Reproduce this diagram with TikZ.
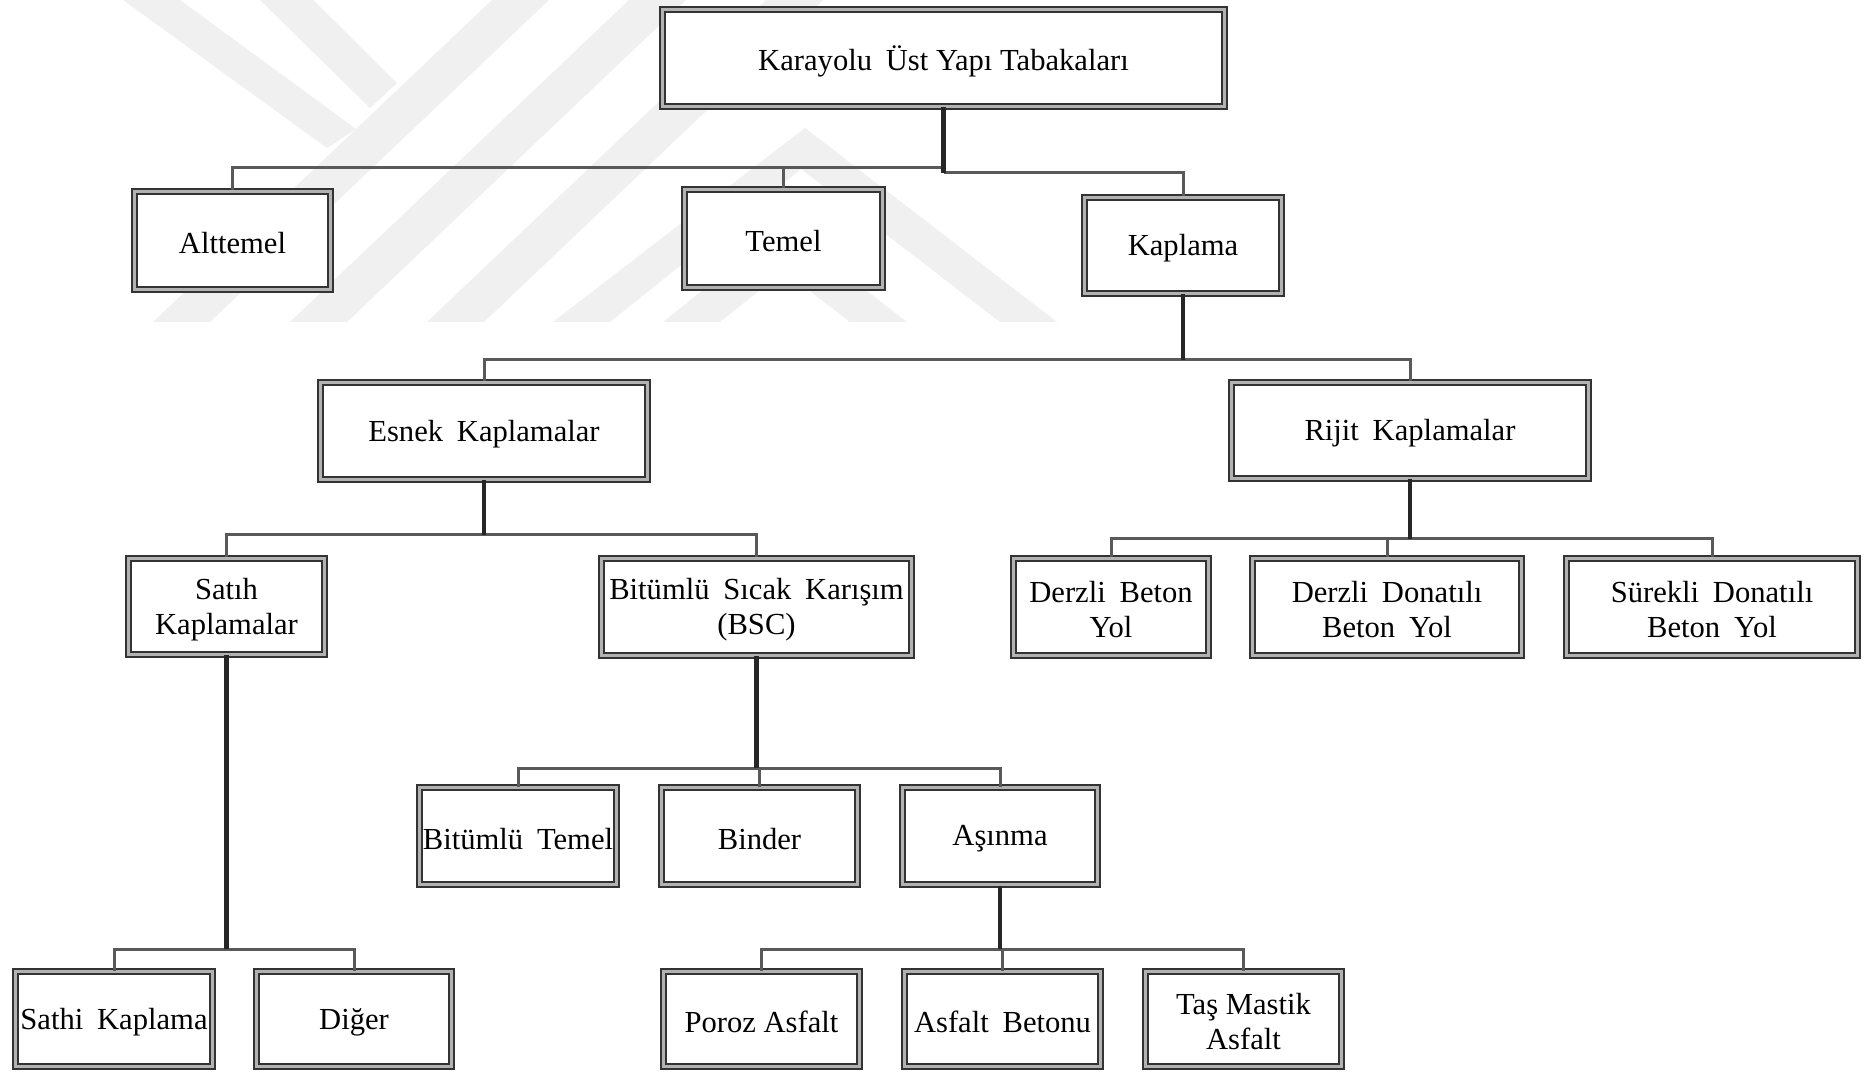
\documentclass[tikz,border=0pt]{standalone}
\usepackage{fontspec}
\setmainfont{Liberation Serif}
\begin{document}
\begin{tikzpicture}[x=0.5pt,y=-0.5pt,
  box/.style={draw=black!80, line width=1pt, double=gray!60, double distance=1.5pt,
    fill=white, inner sep=0pt},
  txt/.style={align=center, inner sep=0pt, font=\fontsize{15.3}{17.5}\selectfont},
  stem/.style={draw=black!85, line width=2.3pt},
  bus/.style={draw=black!65, line width=1.5pt},
  wm/.style={fill=black!6, draw=none}]
\useasboundingbox[fill=white] (0,0) rectangle (1869,1074);
% faint watermark
\begin{scope}
\clip (0,0) rectangle (1869,322);
\fill[wm] (153,322) -- (210,322) -- (549,0) -- (492,0) -- cycle;
\fill[wm] (290,322) -- (347,322) -- (686,0) -- (629,0) -- cycle;
\fill[wm] (427,322) -- (484,322) -- (823,0) -- (766,0) -- cycle;
\fill[wm] (123,0) -- (180,0) -- (356,129) -- (327,148) -- cycle;
\fill[wm] (260,0) -- (313,0) -- (397,83) -- (370,108) -- cycle;
\fill[wm] (553,322) -- (805,128) -- (1057,322) -- (1000,322) -- (801,169) -- (610,322) -- cycle;
\fill[wm] (663,322) -- (783,226) -- (907,322) -- (850,322) -- (784,271) -- (720,322) -- cycle;
\end{scope}
\newcommand\bx[6]{\node[box, minimum width={(#4-#2)*0.5pt-3.5pt}, minimum height={(#5-#3)*0.5pt-3.5pt}] (#1) at ({(#2+#4)/2},{(#3+#5)/2}) {};
  \node[txt] (#1t) at ([yshift=-1.5pt]#1.center) {#6};}
\newcommand\gapsp{\hspace{0.2em}}
\coordinate (j0a) at (943.5,168);
\coordinate (j0b) at (943.5,173);
\coordinate (j1) at (1183,360);
\coordinate (j2) at (484,535);
\coordinate (j3) at (1410,539);
\coordinate (j4) at (226.5,949);
\coordinate (j5) at (756.5,768);
\coordinate (j6) at (1000,949);
% boxes
\bx{top}{659}{6}{1228}{110}{Karayolu\gapsp{} Üst Yapı Tabakaları}
\bx{alt}{131}{188}{334}{293}{Alttemel}
\bx{temel}{681}{186}{886}{291}{Temel}
\bx{kaplama}{1081}{194}{1285}{297}{Kaplama}
\bx{esnek}{317}{379}{651}{483}{Esnek\gapsp{} Kaplamalar}
\bx{rijit}{1228}{379}{1592}{482}{Rijit\gapsp{} Kaplamalar}
\bx{satih}{125}{555}{328}{658}{Satıh\\Kaplamalar}
\bx{bsc}{598}{555}{915}{659}{Bitümlü\gapsp{} Sıcak\gapsp{} Karışım\\(BSC)}
\bx{db}{1010}{555}{1212}{659}{Derzli\gapsp{} Beton\\Yol}
\bx{ddb}{1249}{555}{1525}{659}{Derzli\gapsp{} Donatılı\\Beton\gapsp{} Yol}
\bx{sdb}{1563}{555}{1861}{659}{Sürekli\gapsp{} Donatılı\\Beton\gapsp{} Yol}
\bx{bt}{416}{784}{620}{888}{Bitümlü\gapsp{} Temel}
\bx{binder}{658}{784}{861}{888}{Binder}
\bx{asinma}{899}{784}{1101}{888}{Aşınma}
\bx{sathi}{12}{968}{216}{1070}{Sathi\gapsp{} Kaplama}
\bx{diger}{253}{968}{455}{1070}{Diğer}
\bx{poroz}{660}{968}{863}{1070}{Poroz Asfalt}
\bx{ab}{901}{968}{1104}{1070}{Asfalt\gapsp{} Betonu}
\bx{tma}{1142}{968}{1345}{1070}{Taş Mastik\\Asfalt}
% connectors
\draw[bus] (j0a) -| (alt.north);
\draw[bus] (temel.north) -- (temel.north |- j0a);
\draw[bus] (j0b) -| (kaplama.north);
\draw[stem] (top.south) -- (j0b);
\draw[bus] (j1) -| (esnek.north);
\draw[bus] (j1) -| (rijit.north);
\draw[stem] (kaplama.south) -- (j1);
\draw[bus] (j2) -| (satih.north);
\draw[bus] (j2) -| (bsc.north);
\draw[stem] (esnek.south) -- (j2);
\draw[bus] (j3) -| (db.north);
\draw[bus] (j3) -| (sdb.north);
\draw[bus] (ddb.north) -- (ddb.north |- j3);
\draw[stem] (rijit.south) -- (j3);
\draw[bus] (j4) -| (sathi.north);
\draw[bus] (j4) -| (diger.north);
\draw[stem] (satih.south) -- (j4);
\draw[bus] (j5) -| (bt.north);
\draw[bus] (j5) -| (asinma.north);
\draw[bus] (binder.north) -- (binder.north |- j5);
\draw[stem] (bsc.south) -- (j5);
\draw[bus] (j6) -| (poroz.north);
\draw[bus] (j6) -| (tma.north);
\draw[bus] (ab.north) -- (ab.north |- j6);
\draw[stem] (asinma.south) -- (j6);
\end{tikzpicture}
\end{document}
